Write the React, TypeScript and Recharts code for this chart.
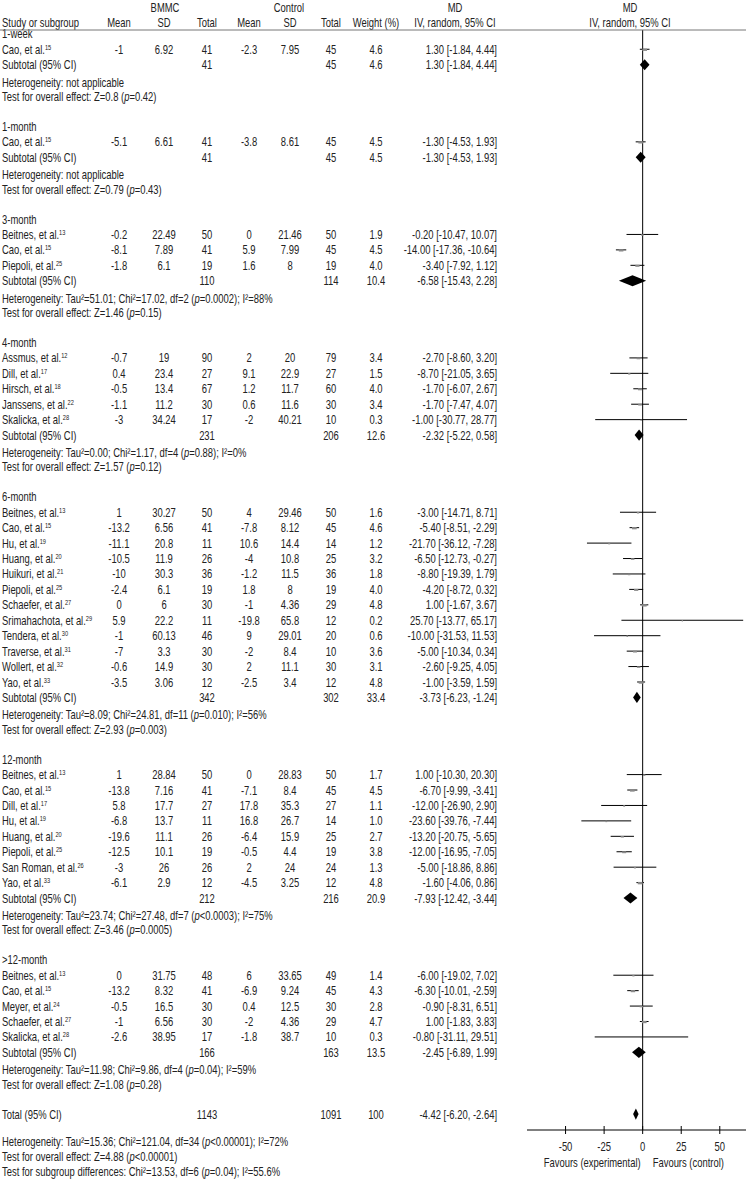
import React from "react";
import { ScatterChart, Scatter, XAxis, YAxis, ErrorBar, ReferenceLine, ReferenceArea } from "recharts";

// name, ref, BMMC mean, SD, total, control mean, SD, total, weight, MD, lower, upper, printed CI (optional)
type Study = [string, string, number, number, number, number, number, number, number, number, number, number, string?];
// BMMC total, control total, weight, MD, lower, upper
type Sub = [number, number, number, number, number, number];
// tau2, chi2, df, p, I2
type Het = [string, string, string, string, string] | null;

const subgroups = ["1-week", "1-month", "3-month", "4-month", "6-month", "12-month", ">12-month"];

const week1: Study[] = [["Cao, et al.", "15", -1, 6.92, 41, -2.3, 7.95, 45, 4.6, 1.3, -1.84, 4.44]];

const month1: Study[] = [["Cao, et al.", "15", -5.1, 6.61, 41, -3.8, 8.61, 45, 4.5, -1.3, -4.53, 1.93]];

const month3: Study[] = [
  ["Beitnes, et al.", "13", -0.2, 22.49, 50, 0, 21.46, 50, 1.9, -0.2, -10.47, 10.07],
  ["Cao, et al.", "15", -8.1, 7.89, 41, 5.9, 7.99, 45, 4.5, -14.0, -17.36, -10.64],
  ["Piepoli, et al.", "25", -1.8, 6.1, 19, 1.6, 8, 19, 4.0, -3.4, -7.92, 1.12],
];

const month4: Study[] = [
  ["Assmus, et al.", "12", -0.7, 19, 90, 2, 20, 79, 3.4, -2.7, -8.6, 3.2],
  ["Dill, et al.", "17", 0.4, 23.4, 27, 9.1, 22.9, 27, 1.5, -8.7, -21.05, 3.65],
  ["Hirsch, et al.", "18", -0.5, 13.4, 67, 1.2, 11.7, 60, 4.0, -1.7, -6.07, 2.67],
  ["Janssens, et al.", "22", -1.1, 11.2, 30, 0.6, 11.6, 30, 3.4, -1.7, -7.47, 4.07],
  ["Skalicka, et al.", "28", -3, 34.24, 17, -2, 40.21, 10, 0.3, -1.0, -30.77, 28.77],
];

const month6: Study[] = [
  ["Beitnes, et al.", "13", 1, 30.27, 50, 4, 29.46, 50, 1.6, -3.0, -14.71, 8.71],
  ["Cao, et al.", "15", -13.2, 6.56, 41, -7.8, 8.12, 45, 4.6, -5.4, -8.51, -2.29],
  ["Hu, et al.", "19", -11.1, 20.8, 11, 10.6, 14.4, 14, 1.2, -21.7, -36.12, -7.28],
  ["Huang, et al.", "20", -10.5, 11.9, 26, -4, 10.8, 25, 3.2, -6.5, -12.73, -0.27],
  ["Huikuri, et al.", "21", -10, 30.3, 36, -1.2, 11.5, 36, 1.8, -8.8, -19.39, 1.79],
  ["Piepoli, et al.", "25", -2.4, 6.1, 19, 1.8, 8, 19, 4.0, -4.2, -8.72, 0.32],
  ["Schaefer, et al.", "27", 0, 6, 30, -1, 4.36, 29, 4.8, 1.0, -1.67, 3.67],
  ["Srimahachota, et al.", "29", 5.9, 22.2, 11, -19.8, 65.8, 12, 0.2, 25.7, -13.77, 65.17],
  ["Tendera, et al.", "30", -1, 60.13, 46, 9, 29.01, 20, 0.6, -10.0, -31.53, 11.53],
  ["Traverse, et al.", "31", -7, 3.3, 30, -2, 8.4, 10, 3.6, -5.0, -10.34, 0.34],
  ["Wollert, et al.", "32", -0.6, 14.9, 30, 2, 11.1, 30, 3.1, -2.6, -9.25, 4.05],
  ["Yao, et al.", "33", -3.5, 3.06, 12, -2.5, 3.4, 12, 4.8, -1.0, -3.59, 1.59],
];

const month12: Study[] = [
  ["Beitnes, et al.", "13", 1, 28.84, 50, 0, 28.83, 50, 1.7, 1.0, -10.3, 12.3, "1.00 [-10.30, 20.30]"],
  ["Cao, et al.", "15", -13.8, 7.16, 41, -7.1, 8.4, 45, 4.5, -6.7, -9.99, -3.41],
  ["Dill, et al.", "17", 5.8, 17.7, 27, 17.8, 35.3, 27, 1.1, -12.0, -26.9, 2.9],
  ["Hu, et al.", "19", -6.8, 13.7, 11, 16.8, 26.7, 14, 1.0, -23.6, -39.76, -7.44],
  ["Huang, et al.", "20", -19.6, 11.1, 26, -6.4, 15.9, 25, 2.7, -13.2, -20.75, -5.65],
  ["Piepoli, et al.", "25", -12.5, 10.1, 19, -0.5, 4.4, 19, 3.8, -12.0, -16.95, -7.05],
  ["San Roman, et al.", "26", -3, 26, 26, 2, 24, 24, 1.3, -5.0, -18.86, 8.86],
  ["Yao, et al.", "33", -6.1, 2.9, 12, -4.5, 3.25, 12, 4.8, -1.6, -4.06, 0.86],
];

const month12plus: Study[] = [
  ["Beitnes, et al.", "13", 0, 31.75, 48, 6, 33.65, 49, 1.4, -6.0, -19.02, 7.02],
  ["Cao, et al.", "15", -13.2, 8.32, 41, -6.9, 9.24, 45, 4.3, -6.3, -10.01, -2.59],
  ["Meyer, et al.", "24", -0.5, 16.5, 30, 0.4, 12.5, 30, 2.8, -0.9, -8.31, 6.51],
  ["Schaefer, et al.", "27", -1, 6.56, 30, -2, 4.36, 29, 4.7, 1.0, -1.83, 3.83],
  ["Skalicka, et al.", "28", -2.6, 38.95, 17, -1.8, 38.7, 10, 0.3, -0.8, -31.11, 29.51],
];

const groupStudies = [week1, month1, month3, month4, month6, month12, month12plus];

const subtotals: Sub[] = [
  [41, 45, 4.6, 1.3, -1.84, 4.44],
  [41, 45, 4.5, -1.3, -4.53, 1.93],
  [110, 114, 10.4, -6.58, -15.43, 2.28],
  [231, 206, 12.6, -2.32, -5.22, 0.58],
  [342, 302, 33.4, -3.73, -6.23, -1.24],
  [212, 216, 20.9, -7.93, -12.42, -3.44],
  [166, 163, 13.5, -2.45, -6.89, 1.99],
];

const heterogeneity: Het[] = [
  null,
  null,
  ["51.01", "17.02", "2", "=0.0002", "88%"],
  ["0.00", "1.17", "4", "=0.88", "0%"],
  ["8.09", "24.81", "11", "=0.010", "56%"],
  ["23.74", "27.48", "7", "<0.0003", "75%"],
  ["11.98", "9.86", "4", "=0.04", "59%"],
];

const overallEffect: [string, string][] = [
  ["0.8", "=0.42"],
  ["0.79", "=0.43"],
  ["1.46", "=0.15"],
  ["1.57", "=0.12"],
  ["2.93", "=0.003"],
  ["3.46", "=0.0005"],
  ["1.08", "=0.28"],
];

const total: Sub = [1143, 1091, 100, -4.42, -6.2, -2.64];
const totalHet: Het = ["15.36", "121.04", "34", "<0.00001", "72%"];
const totalEffect: [string, string] = ["4.88", "<0.00001"];
const subgroupDiff = ["13.53", "6", "=0.04", "55.6%"];

const xTicks = [-50, -25, 0, 25, 50];

// Arial metrics squeezed horizontally to get a condensed face
const FONT = "'Liberation Sans', Arial, sans-serif";
const FS = 12.5;
const SQUEEZE = 0.755;
const INK = "#222";

// column anchors
const COL = { name: 2, bMean: 119, bSD: 164, bN: 207, cMean: 249, cSD: 290, cN: 331, w: 376, ci: 497 };

type Row =
  | { kind: "group"; label: string }
  | { kind: "study"; s: Study }
  | { kind: "sub"; t: Sub; label: string }
  | { kind: "het"; h: Het }
  | { kind: "effect"; e: [string, string] }
  | { kind: "blank" };

const rows: Row[] = [];
subgroups.forEach((g, i) => {
  rows.push({ kind: "group", label: g });
  groupStudies[i].forEach((s) => rows.push({ kind: "study", s }));
  rows.push({ kind: "sub", t: subtotals[i], label: "Subtotal (95% CI)" });
  rows.push({ kind: "het", h: heterogeneity[i] });
  rows.push({ kind: "effect", e: overallEffect[i] });
  rows.push({ kind: "blank" });
});
rows.push({ kind: "sub", t: total, label: "Total (95% CI)" });

const rowIdx = rows.map((_, i) => i);

const studyPoints: { x: number; y: number; err: [number, number]; w: number }[] = [];
const diamonds: { y: number; lo: number; hi: number }[] = [];
rows.forEach((r, i) => {
  if (r.kind === "study") {
    const s = r.s;
    studyPoints.push({ x: s[9], y: i, err: [s[9] - s[10], s[11] - s[9]], w: s[8] });
  } else if (r.kind === "sub") {
    diamonds.push({ y: i, lo: r.t[4], hi: r.t[5] });
  }
});

const ciText = (md: number, lo: number, hi: number) => `${md.toFixed(2)} [${lo.toFixed(2)}, ${hi.toFixed(2)}]`;

const HetText = ({ h }: { h: Het }) =>
  h === null ? (
    <>Heterogeneity: not applicable</>
  ) : (
    <>
      {`Heterogeneity: Tau²=${h[0]}; Chi²=${h[1]}, df=${h[2]} (`}
      <tspan fontStyle="italic">p</tspan>
      {`${h[3]}); I²=${h[4]}`}
    </>
  );

const EffectText = ({ e }: { e: [string, string] }) => (
  <>
    {`Test for overall effect: Z=${e[0]} (`}
    <tspan fontStyle="italic">p</tspan>
    {`${e[1]})`}
  </>
);

const T = ({ x, y, anchor = "middle", children }: { x: number; y: number; anchor?: string; children: React.ReactNode }) => (
  <text
    transform={`translate(${x},${y}) scale(${SQUEEZE},1)`}
    x={0}
    y={0}
    dy={4.5}
    textAnchor={anchor as any}
    fontFamily={FONT}
    fontSize={FS}
    fill={INK}
  >
    {children}
  </text>
);

const RowTick = (props: any) => {
  const { y, payload } = props;
  const r = rows[payload.value];
  if (!r) return null;
  if (r.kind === "group") return <T x={COL.name} y={y} anchor="start">{r.label}</T>;
  if (r.kind === "het") return <T x={COL.name} y={y + 2} anchor="start"><HetText h={r.h} /></T>;
  if (r.kind === "effect") return <T x={COL.name} y={y + 1} anchor="start"><EffectText e={r.e} /></T>;
  if (r.kind === "blank") return null;
  if (r.kind === "sub") {
    const t = r.t;
    return (
      <g>
        <T x={COL.name} y={y} anchor="start">{r.label}</T>
        <T x={COL.bN} y={y}>{t[0]}</T>
        <T x={COL.cN} y={y}>{t[1]}</T>
        <T x={COL.w} y={y}>{t[2] === 100 ? "100" : t[2].toFixed(1)}</T>
        <T x={COL.ci} y={y} anchor="end">{ciText(t[3], t[4], t[5])}</T>
      </g>
    );
  }
  const s = r.s;
  return (
    <g>
      <T x={COL.name} y={y} anchor="start">
        {s[0]}
        <tspan dy={-4} fontSize={7.5}>{s[1]}</tspan>
      </T>
      <T x={COL.bMean} y={y}>{s[2]}</T>
      <T x={COL.bSD} y={y}>{s[3]}</T>
      <T x={COL.bN} y={y}>{s[4]}</T>
      <T x={COL.cMean} y={y}>{s[5]}</T>
      <T x={COL.cSD} y={y}>{s[6]}</T>
      <T x={COL.cN} y={y}>{s[7]}</T>
      <T x={COL.w} y={y}>{s[8].toFixed(1)}</T>
      <T x={COL.ci} y={y} anchor="end">{s[12] ?? ciText(s[9], s[10], s[11])}</T>
    </g>
  );
};

const AxisTick = (props: any) => {
  const { x, y, payload } = props;
  return (
    <g>
      <line x1={x} x2={x} y1={y - 4} y2={y + 4} stroke="#000" />
      <T x={x} y={y + 16}>{payload.value}</T>
      {payload.value === 0 && (
        <>
          <T x={x - 2} y={y + 32} anchor="end">Favours (experimental)</T>
          <T x={x + 10} y={y + 32} anchor="start">Favours (control)</T>
        </>
      )}
    </g>
  );
};

const StudyMarker = (p: any) => {
  const w = 1 + p.payload.w * 0.8;
  const h = Math.max(1.5, p.payload.w * 0.5);
  return <rect x={p.cx - w / 2} y={p.cy - h / 2 + 0.5} width={w} height={h} fill="#8a8a8a" />;
};

const Diamond = (p: any) => {
  const { x, y, width, height } = p;
  const pts = `${x},${y + height / 2} ${x + width / 2},${y} ${x + width},${y + height / 2} ${x + width / 2},${y + height}`;
  return <polygon points={pts} fill="#000" />;
};

export default function App() {
  return (
    <div style={{ position: "relative", width: 746, height: 1182, background: "#fff" }}>
      <style>{"body{margin:0}"}</style>
      <ScatterChart width={746} height={1182} margin={{ top: 30, right: 0, bottom: 0, left: 0 }}>
        <XAxis
          type="number"
          dataKey="x"
          domain={[-75, 67]}
          allowDataOverflow
          ticks={xTicks}
          interval={0}
          height={52}
          tickSize={0}
          tickMargin={0}
          tickLine={false}
          axisLine={{ stroke: "#000" }}
          tick={<AxisTick />}
        />
        <YAxis
          type="number"
          dataKey="y"
          domain={[-0.248, 71.03]}
          reversed
          allowDataOverflow
          ticks={rowIdx}
          interval={0}
          width={527}
          axisLine={false}
          tickLine={false}
          tick={<RowTick />}
        />
        <ReferenceLine x={0} stroke="#000" strokeWidth={1} />
        {diamonds.map((d) => (
          <ReferenceArea key={d.y} x1={d.lo} x2={d.hi} y1={d.y - 0.36} y2={d.y + 0.36} shape={<Diamond />} />
        ))}
        <Scatter data={studyPoints} isAnimationActive={false} shape={<StudyMarker />}>
          <ErrorBar dataKey="err" direction="x" width={0} stroke="#000" strokeWidth={1} isAnimationActive={false} />
        </Scatter>
      </ScatterChart>
      <svg width={746} height={1182} style={{ position: "absolute", left: 0, top: 0, pointerEvents: "none" }}>
        <T x={165} y={7}>BMMC</T>
        <T x={289} y={7}>Control</T>
        <T x={455} y={7}>MD</T>
        <T x={630} y={7}>MD</T>
        <T x={COL.name} y={22} anchor="start">Study or subgroup</T>
        <T x={COL.bMean} y={22}>Mean</T>
        <T x={COL.bSD} y={22}>SD</T>
        <T x={COL.bN} y={22}>Total</T>
        <T x={COL.cMean} y={22}>Mean</T>
        <T x={COL.cSD} y={22}>SD</T>
        <T x={COL.cN} y={22}>Total</T>
        <T x={COL.w} y={22}>Weight (%)</T>
        <T x={455} y={22}>IV, random, 95% CI</T>
        <T x={630} y={22}>IV, random, 95% CI</T>
        <line x1={0} x2={746} y1={30} y2={30} stroke="#777" />
        <T x={COL.name} y={1141} anchor="start"><HetText h={totalHet} /></T>
        <T x={COL.name} y={1156} anchor="start"><EffectText e={totalEffect} /></T>
        <T x={COL.name} y={1171} anchor="start">
          {`Test for subgroup differences: Chi²=${subgroupDiff[0]}, df=${subgroupDiff[1]} (`}
          <tspan fontStyle="italic">p</tspan>
          {`${subgroupDiff[2]}); I²=${subgroupDiff[3]}`}
        </T>
      </svg>
    </div>
  );
}
